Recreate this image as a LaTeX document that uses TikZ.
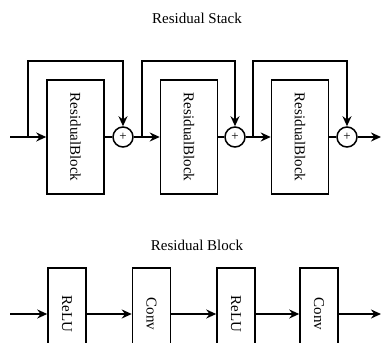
\documentclass[tikz,border=0pt]{standalone}
\usepackage{fontspec}
\setmainfont{Liberation Serif}
\usepackage{graphicx}
\usetikzlibrary{arrows.meta,positioning}

\begin{document}
\begin{tikzpicture}[x=1pt, y=1pt,
  resblock/.style={draw, line width=1.5pt, minimum width=57pt, minimum height=114pt,
    inner sep=0pt, font=\fontsize{15}{18}\selectfont},
  layer/.style={draw, line width=1.5pt, minimum width=38pt, minimum height=92pt,
    inner sep=0pt, font=\fontsize{15}{18}\selectfont},
  addop/.style={draw, circle, line width=1.5pt, minimum size=20pt, inner sep=0pt,
    font=\fontsize{13}{13}\selectfont},
  title/.style={font=\fontsize{15}{18}\selectfont},
  link/.style={line width=1.8pt},
  rel/.style={link, -{Stealth[length=10pt,width=9pt]}}
]
  \clip (0,0) rectangle (381,343);
  % residual stack
  \node[title] (stacktitle) at (197,325) {Residual Stack};
  \node[resblock] (rb1) at (75.5,206) {\rotatebox{-90}{ResidualBlock}};
  \node[resblock] (rb2) at (189,206) {\rotatebox{-90}{ResidualBlock}};
  \node[resblock] (rb3) at (300,206) {\rotatebox{-90}{ResidualBlock}};
  \node[addop] (add1) at (123,206) {+};
  \node[addop] (add2) at (235,206) {+};
  \node[addop] (add3) at (347,206) {+};
  \coordinate (in1) at (10,206);
  \coordinate (out1) at (381,206);
  \coordinate (sk1) at (28,206);
  \coordinate (sk2) at (142,206);
  \coordinate (sk3) at (253,206);
  \coordinate (tp1) at (28,282);
  \coordinate (tp2) at (142,282);
  \coordinate (tp3) at (253,282);
  \draw[rel] (in1) -- (rb1);
  \draw[link] (rb1) -- (add1);
  \draw[rel] (add1) -- (rb2);
  \draw[link] (rb2) -- (add2);
  \draw[rel] (add2) -- (rb3);
  \draw[link] (rb3) -- (add3);
  \draw[rel] (add3) -- (out1);
  \draw[rel] (sk1) -- (tp1) -| (add1);
  \draw[rel] (sk2) -- (tp2) -| (add2);
  \draw[rel] (sk3) -- (tp3) -| (add3);

  % residual block
  \node[title] (blocktitle) at (197,98) {Residual Block};
  \node[layer] (relu1) at (67,29) {\rotatebox{-90}{ReLU}};
  \node[layer] (conv1) at (151.5,29) {\rotatebox{-90}{Conv}};
  \node[layer] (relu2) at (236,29) {\rotatebox{-90}{ReLU}};
  \node[layer] (conv2) at (319,29) {\rotatebox{-90}{Conv}};
  \coordinate (in2) at (10,29);
  \coordinate (out2) at (381,29);
  \draw[rel] (in2) -- (relu1);
  \draw[rel] (relu1) -- (conv1);
  \draw[rel] (conv1) -- (relu2);
  \draw[rel] (relu2) -- (conv2);
  \draw[rel] (conv2) -- (out2);
\end{tikzpicture}
\end{document}
